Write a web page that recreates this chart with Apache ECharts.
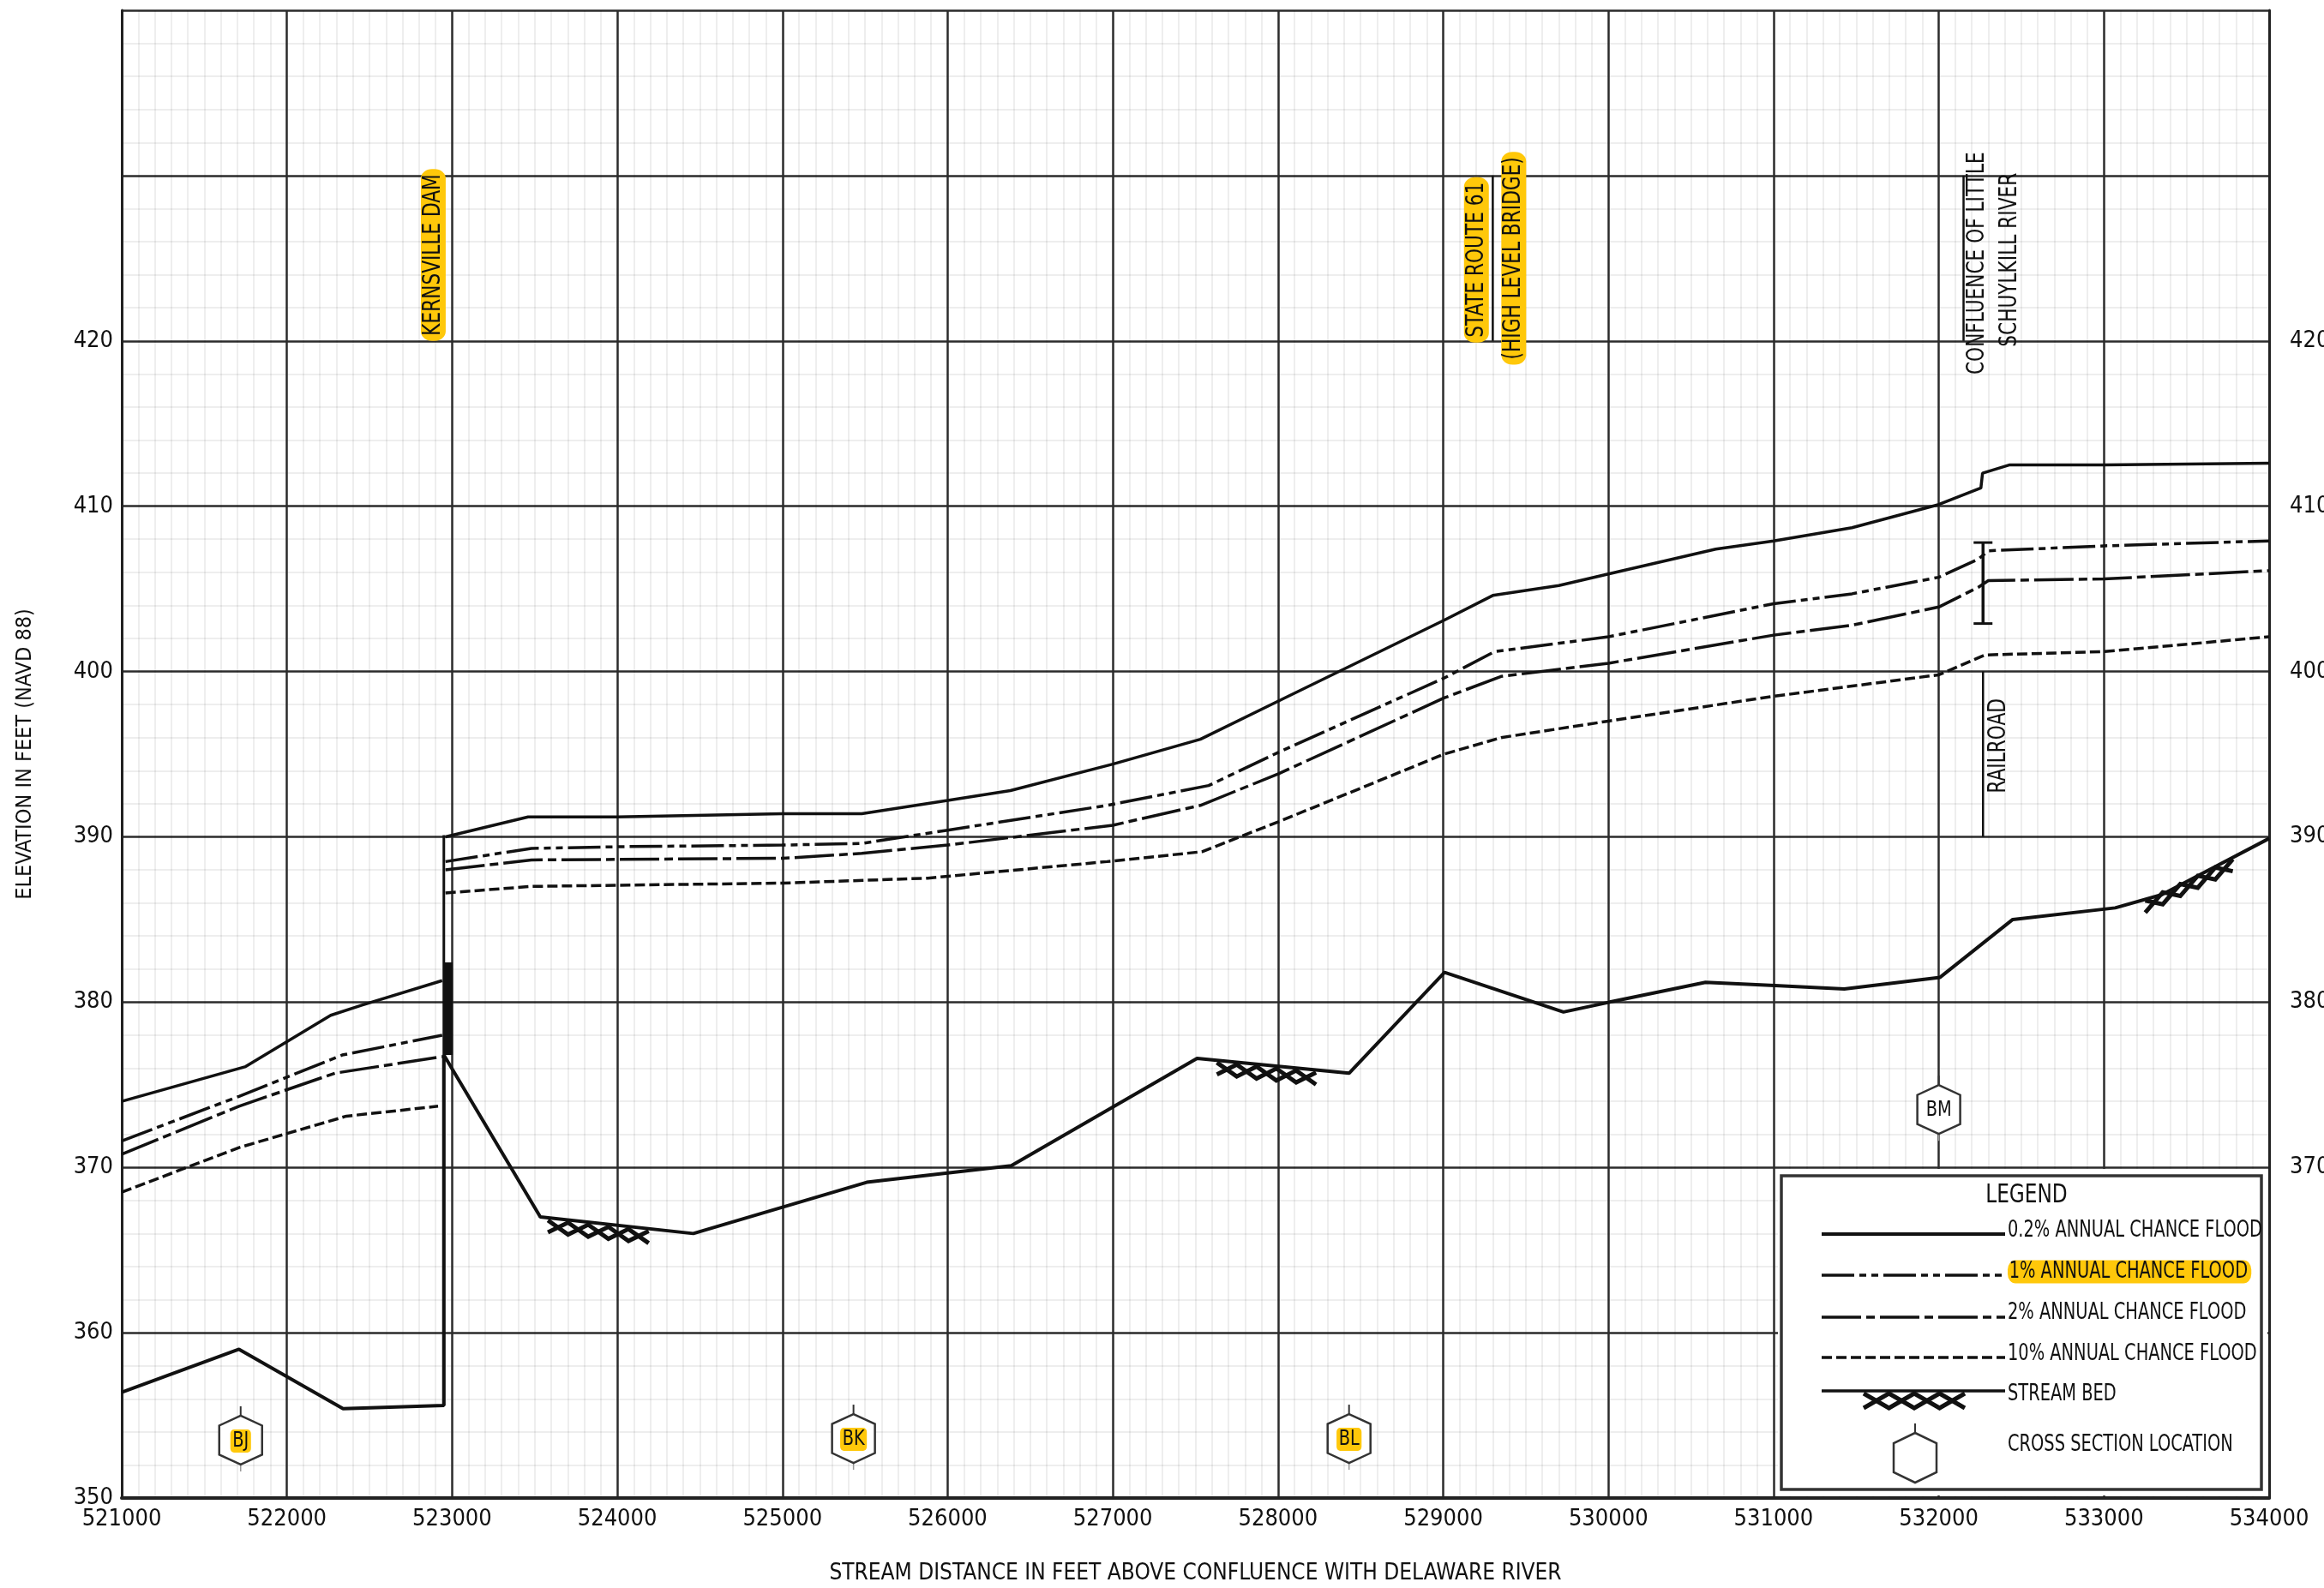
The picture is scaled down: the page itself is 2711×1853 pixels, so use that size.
<!DOCTYPE html>
<html>
<head>
<meta charset="utf-8">
<title>Flood Profile</title>
<script src="https://cdn.jsdelivr.net/npm/echarts@6/dist/echarts.min.js"></script>
<style>
  html, body { margin: 0; padding: 0; background: #fff; }
  #chart { width: 2711px; height: 1853px; }
</style>
</head>
<body>
<div id="chart"></div>
<script>
// ---- axes ----
const DIST_MIN = 521000, DIST_MAX = 534000, DIST_STEP = 1000;
const ELEV_MIN = 350, ELEV_MAX = 440, ELEV_STEP = 10;
const LEFT_LABEL_MAX = 420;
const RIGHT_LABEL_MIN = 370, RIGHT_LABEL_MAX = 420;

// ---- water-surface profiles [stream distance ft, elevation ft] ----
// downstream of Kernsville Dam
const flood02Down = [[521000, 374.0], [521750, 376.1], [522265, 379.2], [522450, 379.8], [522940, 381.3]];
const flood1Down  = [[521000, 371.6], [521710, 374.3], [522335, 376.8], [522940, 378.0]];
const flood2Down  = [[521000, 370.8], [521710, 373.7], [522290, 375.7], [522940, 376.7]];
const flood10Down = [[521000, 368.5], [521710, 371.2], [522360, 373.1], [522915, 373.7]];
// upstream of Kernsville Dam
const flood02Up = [[522960, 390.0], [523460, 391.2], [524000, 391.2], [525000, 391.4], [525480, 391.4], [526000, 392.2],
  [526380, 392.8], [527000, 394.4], [527530, 395.9], [528000, 398.2], [529005, 403.1], [529300, 404.6], [529700, 405.2],
  [530000, 405.9], [530650, 407.4], [531000, 407.9], [531475, 408.7], [532000, 410.1], [532255, 411.1], [532265, 412.0],
  [532430, 412.5], [533000, 412.5], [534000, 412.6]];
const flood1Up = [[522960, 388.5], [523480, 389.3], [524000, 389.4], [525000, 389.5], [525480, 389.6], [526000, 390.4],
  [526965, 391.9], [527580, 393.1], [528000, 395.1], [529005, 399.6], [529310, 401.2], [530000, 402.1], [531000, 404.1],
  [531475, 404.7], [532000, 405.7], [532240, 406.8], [532300, 407.3], [533000, 407.6], [534000, 407.9]];
const flood2Up = [[522960, 388.0], [523480, 388.6], [525000, 388.7], [525480, 389.0], [526000, 389.5], [527000, 390.7],
  [527530, 391.9], [528000, 393.8], [529005, 398.4], [529350, 399.7], [530000, 400.5], [531000, 402.2], [531475, 402.8],
  [532000, 403.9], [532240, 405.1], [532300, 405.5], [533000, 405.6], [534000, 406.1]];
const flood10Up = [[522960, 386.6], [523480, 387.0], [525000, 387.2], [525880, 387.5], [526965, 388.5], [527540, 389.1],
  [528000, 390.9], [529005, 395.0], [529350, 396.0], [530000, 397.0], [531000, 398.5], [532000, 399.8], [532280, 401.0],
  [533000, 401.2], [534000, 402.1]];

// ---- stream bed ----
const streamBed = [[521000, 356.4], [521710, 359.0], [522340, 355.4], [522950, 355.6], [522950, 376.8], [523534, 367.0],
  [524460, 366.0], [525510, 369.1], [526385, 370.1], [527510, 376.6], [528430, 375.7], [529008, 381.8], [529728, 379.4],
  [530008, 380.0], [530588, 381.2], [531008, 381.0], [531428, 380.8], [532008, 381.5], [532448, 385.0], [533068, 385.7],
  [533350, 386.5], [534000, 389.9]];
// bed hatching runs [from dist, from elev, to dist, to elev]
const bedHatch = [[523580, 366.95, 524190, 366.3], [527630, 376.5, 528230, 375.9], [533250, 386.3, 533780, 388.8]];

// ---- Kernsville Dam ----
const damFace  = [[522950, 355.6], [522950, 390.1]];
const damCrest = [[522975, 376.8], [522975, 382.4]];

// ---- vertical structure marks ----
const structDist = [532268, 532268, 529300, 532150];
const structLow  = [402.9, 390.0, 420.0, 420.0];
const structHigh = [407.8, 400.0, 430.0, 430.0];
const structCap  = [1, 0, 0, 0];

// ---- cross sections ----
const xsNames = ['BJ', 'BK', 'BL', 'BM'];
const xsDist  = [521720, 525430, 528430, 532000];
const xsElev  = [353.5, 353.6, 353.6, 373.5];
const xsHighlight = [1, 1, 1, 0];

// ---- vertical annotations ----
const annoText = ['KERNSVILLE DAM', 'STATE ROUTE 61', '(HIGH LEVEL BRIDGE)', 'CONFLUENCE OF LITTLE', 'SCHUYLKILL RIVER', 'RAILROAD'];
const annoDist = [522886, 529201, 529427, 532233, 532432, 532363];
const annoElev = [425.2, 424.9, 425.0, 424.7, 424.9, 395.5];
const annoHighlight = [1, 1, 1, 0, 0, 0];

// ---- legend ----
const legendTitle = 'LEGEND';
const legendLabels = ['0.2% ANNUAL CHANCE FLOOD', '1% ANNUAL CHANCE FLOOD', '2% ANNUAL CHANCE FLOOD',
  '10% ANNUAL CHANCE FLOOD', 'STREAM BED', 'CROSS SECTION LOCATION'];
const legendHighlight = [0, 1, 0, 0, 0, 0];

const FONT = "'Liberation Sans Narrow','DejaVu Sans Condensed','Roboto Condensed','Arial Narrow',Roboto,sans-serif";
const INK = '#111';
const YELLOW = '#FFC80A';
const DASH_1 = [38, 6, 8, 6, 8, 6];
const DASH_2 = [46, 6, 10, 6];
const DASH_10 = [12, 5];
const NARROW = 0.86;   // horizontal squeeze for the condensed lettering

function profile(data, dash, width) {
  return {
    type: 'line', data: data, symbol: 'none', silent: true, z: 3,
    lineStyle: { color: INK, width: width, type: dash, cap: 'butt' }
  };
}

function zigzag(x0, y0, x1, y1, step, depth, z) {
  const dx = x1 - x0, dy = y1 - y0;
  const n = Math.max(2, Math.round(Math.hypot(dx, dy) / step));
  const a = [], b = [];
  for (let i = 0; i <= n; i++) {
    const t = i / n;
    const bx = x0 + dx * t, by = y0 + dy * t;
    const top = by + 3, bot = by + depth;
    a.push([bx, i % 2 === 0 ? top : bot]);
    b.push([bx, i % 2 === 0 ? bot : top]);
  }
  const st = { stroke: INK, lineWidth: 5, fill: null, lineJoin: 'miter' };
  return [
    { type: 'polyline', z: z, shape: { points: a }, style: st },
    { type: 'polyline', z: z, shape: { points: b }, style: Object.assign({}, st) }
  ];
}

function hexagon(cx, cy, hw, hh, sh) {
  return [[cx, cy - hh], [cx + hw, cy - hh + sh], [cx + hw, cy + hh - sh],
          [cx, cy + hh], [cx - hw, cy + hh - sh], [cx - hw, cy - hh + sh]];
}

const chart = echarts.init(document.getElementById('chart'), null, { renderer: 'canvas' });

// legend panel (fixed panel in the lower-right of the plot)
const LZ = 200;
const LG = { x: 2078, y: 1372, w: 560, h: 366 };
const rowY = [1440, 1488, 1537, 1584, 1623];
const sampleX0 = 2125, sampleX1 = 2339, textX = 2342;
const rowDash = [null, DASH_1, DASH_2, DASH_10, null];
const legendChildren = [
  { type: 'rect', z: LZ, shape: { x: 2074, y: 1364, width: 571, height: 381 }, style: { fill: '#fff' } },
  { type: 'rect', z: LZ + 1, shape: { x: LG.x, y: LG.y, width: LG.w, height: LG.h }, style: { fill: '#fff', stroke: '#333', lineWidth: 3.5 } },
  { type: 'text', z: LZ + 2, x: 2364, y: 1395, scaleX: NARROW, style: { text: legendTitle, fontFamily: FONT, fontSize: 30, fill: INK, align: 'center', verticalAlign: 'middle' } }
];
for (let i = 0; i < 5; i++) {
  legendChildren.push({
    type: 'line', z: LZ + 2, shape: { x1: sampleX0, y1: rowY[i], x2: sampleX1, y2: rowY[i] },
    style: { stroke: INK, lineWidth: i === 0 ? 4 : 3.5, lineDash: rowDash[i] || null }
  });
}
legendChildren.push(...zigzag(2174, 1623, 2292, 1623, 30, 20, LZ + 2));
legendChildren.push({ type: 'polygon', z: LZ + 2, shape: { points: hexagon(2234, 1701, 25, 29, 12) }, style: { fill: '#fff', stroke: '#333', lineWidth: 2.5 } });
legendChildren.push({ type: 'line', z: LZ + 2, shape: { x1: 2234, y1: 1661, x2: 2234, y2: 1672 }, style: { stroke: '#333', lineWidth: 2 } });
const labelY = [1436, 1484, 1532, 1580, 1627, 1686];
for (let i = 0; i < legendLabels.length; i++) {
  legendChildren.push({
    type: 'text', z: LZ + 3, x: textX, y: labelY[i], scaleX: 0.83,
    style: {
      text: legendLabels[i], fontFamily: FONT, fontSize: 26, fill: INK, align: 'left', verticalAlign: 'middle',
      backgroundColor: legendHighlight[i] ? YELLOW : null, padding: legendHighlight[i] ? [1, 5, 0, 2] : 0, borderRadius: 11
    }
  });
}

// translucent minor rules so they never lighten the heavy major rules they cross
const minorStyle = { color: 'rgba(0,0,0,0.065)', width: 2, type: 'solid' };
const majorStyle = { color: '#2b2b2b', width: 2.5, type: 'solid' };

const option = {
  animation: false,
  backgroundColor: '#fff',
  grid: { left: 142, right: 64, top: 12, bottom: 105, containLabel: false, outerBoundsMode: 'none' },
  xAxis: {
    type: 'value', min: DIST_MIN, max: DIST_MAX, interval: DIST_STEP,
    name: 'STREAM DISTANCE IN FEET ABOVE CONFLUENCE WITH DELAWARE RIVER',
    nameLocation: 'middle', nameGap: 75,
    nameTextStyle: { fontFamily: FONT, fontSize: 26, color: INK },
    axisLine: { show: true, onZero: false, lineStyle: { color: '#222', width: 4, type: 'solid' } },
    axisTick: { show: false },
    axisLabel: { fontFamily: FONT, fontSize: 27, color: INK, margin: 11, formatter: v => String(v) },
    splitLine: { show: true, lineStyle: majorStyle },
    minorTick: { show: false, splitNumber: 10 },
    minorSplitLine: { show: true, lineStyle: minorStyle }
  },
  yAxis: [{
    type: 'value', min: ELEV_MIN, max: ELEV_MAX, interval: ELEV_STEP, position: 'left',
    name: 'ELEVATION IN FEET (NAVD 88)', nameLocation: 'middle', nameGap: 100, nameRotate: 90,
    nameTextStyle: { fontFamily: FONT, fontSize: 25, color: INK },
    axisLine: { show: true, onZero: false, lineStyle: { color: '#222', width: 3, type: 'solid' } },
    axisTick: { show: false },
    axisLabel: { fontFamily: FONT, fontSize: 27, color: INK, margin: 10,
      formatter: v => (v <= LEFT_LABEL_MAX ? String(v) : '') },
    splitLine: { show: true, lineStyle: majorStyle },
    minorTick: { show: false, splitNumber: 5 },
    minorSplitLine: { show: true, lineStyle: minorStyle }
  }, {
    type: 'value', min: ELEV_MIN, max: ELEV_MAX, interval: ELEV_STEP, position: 'right',
    axisLine: { show: true, onZero: false, lineStyle: { color: '#222', width: 3, type: 'solid' } },
    axisTick: { show: false },
    axisLabel: { fontFamily: FONT, fontSize: 27, color: INK, margin: 24,
      formatter: v => (v >= RIGHT_LABEL_MIN && v <= RIGHT_LABEL_MAX ? String(v) : '') },
    splitLine: { show: false }
  }],
  graphic: { elements: [{ type: 'group', x: 0, y: 0, z: LZ, silent: true, children: legendChildren }] },
  series: [
    profile(flood10Down, DASH_10, 3.5), profile(flood10Up, DASH_10, 3.5),
    profile(flood2Down, DASH_2, 3.5), profile(flood2Up, DASH_2, 3.5),
    profile(flood1Down, DASH_1, 3.5), profile(flood1Up, DASH_1, 3.5),
    profile(flood02Down, 'solid', 3.5), profile(flood02Up, 'solid', 3.5),
    profile(streamBed, 'solid', 4),
    profile(damFace, 'solid', 3),
    profile(damCrest, 'solid', 11),
    {
      type: 'custom', silent: true, z: 4,
      data: bedHatch,
      renderItem: (params, api) => {
        const p0 = api.coord([api.value(0), api.value(1)]);
        const p1 = api.coord([api.value(2), api.value(3)]);
        return { type: 'group', children: zigzag(p0[0], p0[1], p1[0], p1[1], 22, 17) };
      }
    },
    {
      type: 'custom', silent: true, z: 4,
      data: structDist.map((d, i) => [d, structLow[i], structHigh[i], structCap[i]]),
      renderItem: (params, api) => {
        const lo = api.coord([api.value(0), api.value(1)]);
        const hi = api.coord([api.value(0), api.value(2)]);
        const cap = api.value(3);
        const kids = [{ type: 'line', shape: { x1: lo[0], y1: lo[1], x2: hi[0], y2: hi[1] },
          style: { stroke: INK, lineWidth: cap ? 3.5 : 2.5 } }];
        if (cap) {
          kids.push({ type: 'line', shape: { x1: lo[0] - 11, y1: lo[1], x2: lo[0] + 11, y2: lo[1] }, style: { stroke: INK, lineWidth: 3 } });
          kids.push({ type: 'line', shape: { x1: hi[0] - 11, y1: hi[1], x2: hi[0] + 11, y2: hi[1] }, style: { stroke: INK, lineWidth: 3 } });
        }
        return { type: 'group', children: kids };
      }
    },
    {
      type: 'custom', silent: true, z: 6,
      data: xsDist.map((d, i) => [d, xsElev[i], i]),
      renderItem: (params, api) => {
        const c = api.coord([api.value(0), api.value(1)]);
        const i = api.value(2);
        const hh = 28.5;
        return {
          type: 'group', children: [
            { type: 'line', shape: { x1: c[0], y1: c[1] - hh - 11, x2: c[0], y2: c[1] - hh }, style: { stroke: '#333', lineWidth: 2 } },
            { type: 'line', shape: { x1: c[0], y1: c[1] + hh, x2: c[0], y2: c[1] + hh + 8 }, style: { stroke: '#999', lineWidth: 1.5 } },
            { type: 'polygon', shape: { points: hexagon(c[0], c[1], 25, hh, 11.5) }, style: { fill: '#fff', stroke: '#333', lineWidth: 2.5 } },
            { type: 'text', x: c[0], y: c[1] + 1, scaleX: NARROW, style: {
              text: xsNames[i], fontFamily: FONT, fontSize: 25, fill: INK, align: 'center', verticalAlign: 'middle',
              backgroundColor: xsHighlight[i] ? YELLOW : null, padding: xsHighlight[i] ? [2, 3, 0, 3] : 0, borderRadius: 5 } }
          ]
        };
      }
    },
    {
      type: 'custom', silent: true, z: 7,
      data: annoDist.map((d, i) => [d, annoElev[i], i]),
      renderItem: (params, api) => {
        const c = api.coord([api.value(0), api.value(1)]);
        const i = api.value(2);
        return {
          type: 'text', x: c[0], y: c[1], rotation: Math.PI / 2, scaleX: NARROW,
          style: {
            text: annoText[i], fontFamily: FONT, fontSize: 28, fill: INK, align: 'center', verticalAlign: 'middle',
            backgroundColor: annoHighlight[i] ? YELLOW : null, padding: annoHighlight[i] ? [1, 7, 0, 7] : 0, borderRadius: 13
          }
        };
      }
    }
  ]
};

chart.setOption(option);
</script>
</body>
</html>
